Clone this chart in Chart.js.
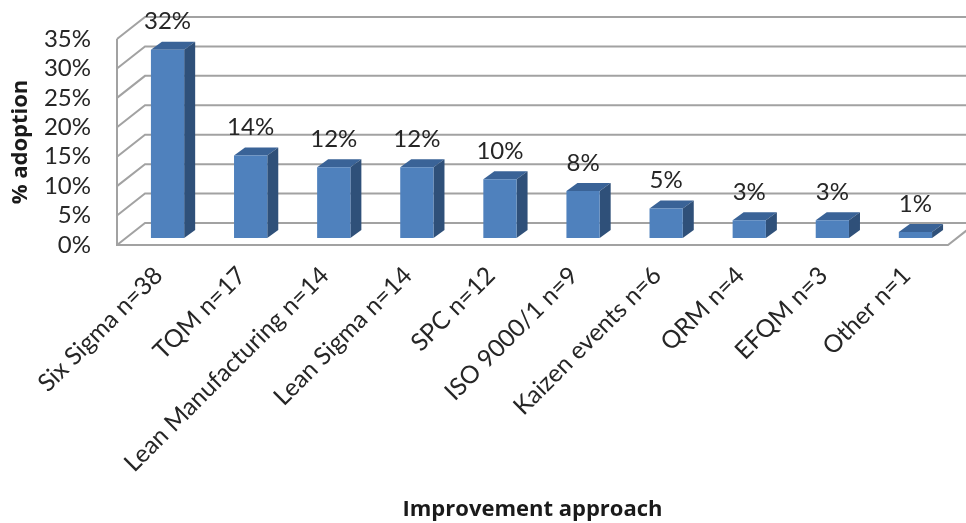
<!DOCTYPE html>
<html>
<head>
<meta charset="utf-8">
<style>html,body{margin:0;padding:0;background:#fff}canvas{display:block}</style>
<script src="https://cdn.jsdelivr.net/npm/chart.js@4"></script>
</head>
<body>
<canvas id="chart" width="966" height="523"></canvas>
<script>
// Adoption of improvement approaches, survey counts in the labels
const categories = ['Six Sigma n=38','TQM n=17','Lean Manufacturing n=14','Lean Sigma n=14','SPC n=12','ISO 9000/1 n=9','Kaizen events n=6','QRM n=4','EFQM n=3','Other n=1'];
const adoption = [32,14,12,12,10,8,5,3,3,1];
const yMax = 35;
const yStep = 5;

const FONT = 'Lato, sans-serif';
const TITLE_FONT = '"Open Sans", sans-serif';
const INK = '#262626';

// Depth of the box the columns stand in, and where the columns sit inside it
const WALL_DX = 28, WALL_DY = 22;
const BAR_SHIFT_X = 9, BAR_SHIFT_Y = 7;
const BAR_DX = 11, BAR_DY = 8;

// Back wall, side wall and floor of the 3D box
const boxPlugin = {
  id: 'box',
  beforeDatasetsDraw(chart) {
    const {ctx, scales:{x, y}} = chart;
    const L = x.left, R = x.right, B = y.getPixelForValue(0), T = y.getPixelForValue(yMax);
    ctx.save();
    ctx.strokeStyle = '#a2a2a2';
    ctx.lineWidth = 2;
    ctx.beginPath();
    for (let v = 0; v <= yMax; v += yStep) {
      const p = y.getPixelForValue(v);
      ctx.moveTo(L, p);
      ctx.lineTo(L + WALL_DX, p - WALL_DY);
      ctx.lineTo(R + WALL_DX, p - WALL_DY);
    }
    ctx.moveTo(L, T); ctx.lineTo(L, B); ctx.lineTo(R, B); ctx.lineTo(R + WALL_DX, B - WALL_DY);
    ctx.stroke();
    ctx.restore();

    // Shaded top and side of each column, shifted onto the middle of the floor
    const bars = chart.getDatasetMeta(0).data;
    ctx.save();
    ctx.translate(BAR_SHIFT_X, -BAR_SHIFT_Y);
    bars.forEach(b => {
      const l = b.x - b.width / 2, r = b.x + b.width / 2, t = b.y, bt = b.base;
      ctx.fillStyle = '#3a6397';
      ctx.beginPath();
      ctx.moveTo(l, t); ctx.lineTo(l + BAR_DX, t - BAR_DY); ctx.lineTo(r + BAR_DX, t - BAR_DY); ctx.lineTo(r, t);
      ctx.closePath(); ctx.fill();
      ctx.fillStyle = '#2f5079';
      ctx.beginPath();
      ctx.moveTo(r, t); ctx.lineTo(r + BAR_DX, t - BAR_DY); ctx.lineTo(r + BAR_DX, bt - BAR_DY); ctx.lineTo(r, bt);
      ctx.closePath(); ctx.fill();
    });
    // Front faces are drawn by the library under the same shift
  },
  afterDatasetsDraw(chart) {
    const ctx = chart.ctx;
    ctx.restore();
    const bars = chart.getDatasetMeta(0).data;
    ctx.save();
    ctx.fillStyle = INK;
    ctx.font = '24px ' + FONT;
    ctx.textAlign = 'center';
    ctx.textBaseline = 'middle';
    bars.forEach((b, i) => {
      ctx.fillText(adoption[i] + '%', b.x + BAR_SHIFT_X, b.y - BAR_SHIFT_Y - 28);
    });
    ctx.restore();
  }
};

new Chart(document.getElementById('chart'), {
  type: 'bar',
  data: {
    labels: categories,
    datasets: [{ data: adoption, backgroundColor: '#4f81bd', categoryPercentage: 0.4, barPercentage: 1 }]
  },
  plugins: [boxPlugin],
  options: {
    responsive: false,
    animation: false,
    layout: { padding: { top: 39, right: 18, left: 0, bottom: 0 } },
    plugins: { legend: { display: false }, tooltip: { enabled: false } },
    scales: {
      x: {
        afterFit(s) { s.height = 278; },
        grid: { display: false },
        border: { display: false },
        ticks: { autoSkip: false, minRotation: 45, maxRotation: 45, color: INK, padding: 8, font: { family: FONT, size: 24.5 } },
        title: { display: true, text: 'Improvement approach', color: '#1a1a1a', padding: { top: 0, bottom: 0 }, font: { family: TITLE_FONT, size: 22, weight: 'bold' } }
      },
      y: {
        min: 0, max: yMax,
        afterFit(s) { s.width = 117; },
        grid: { display: false },
        border: { display: false },
        ticks: { stepSize: yStep, autoSkip: false, color: INK, padding: 18, font: { family: FONT, size: 24 }, callback: v => v + '%' },
        title: { display: true, text: '% adoption', color: '#1a1a1a', padding: { top: 8, bottom: 0 }, font: { family: TITLE_FONT, size: 22, weight: 'bold' } }
      }
    }
  }
});
</script>
</body>
</html>
